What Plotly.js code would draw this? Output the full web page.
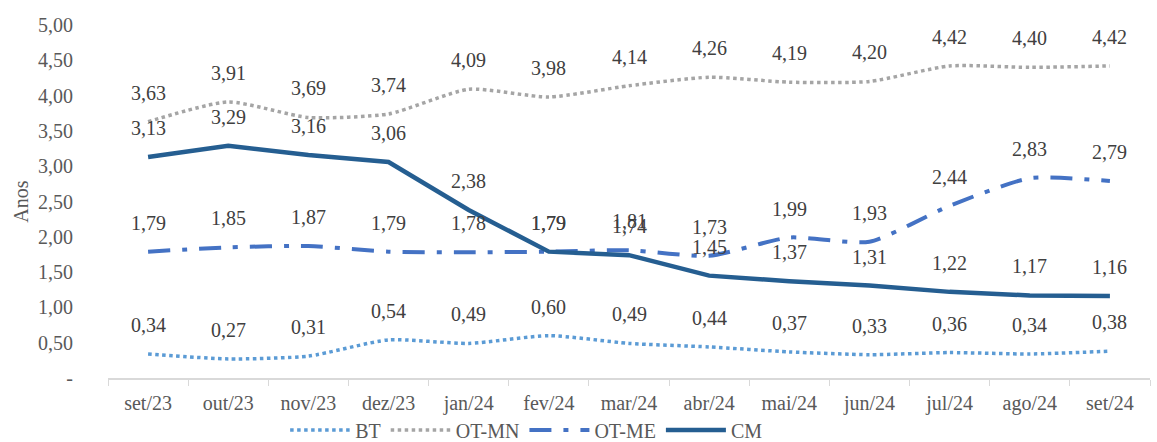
<!DOCTYPE html>
<html>
<head>
<meta charset="utf-8">
<script src="https://cdn.plot.ly/plotly-3.0.1.min.js"></script>
<style>
  html, body { margin: 0; padding: 0; background: #fff; }
  #plot { width: 1157px; height: 442px; }
</style>
</head>
<body>
<div id="plot"></div>
<script>
const months = ['set/23', 'out/23', 'nov/23', 'dez/23', 'jan/24', 'fev/24', 'mar/24',
  'abr/24', 'mai/24', 'jun/24', 'jul/24', 'ago/24', 'set/24'];

const bt = [0.34, 0.27, 0.31, 0.54, 0.49, 0.60, 0.49, 0.44, 0.37, 0.33, 0.36, 0.34, 0.38];
const otMn = [3.63, 3.91, 3.69, 3.74, 4.09, 3.98, 4.14, 4.26, 4.19, 4.20, 4.42, 4.40, 4.42];
const otMe = [1.79, 1.85, 1.87, 1.79, 1.78, 1.79, 1.81, 1.73, 1.99, 1.93, 2.44, 2.83, 2.79];
const cm = [3.13, 3.29, 3.16, 3.06, 2.38, 1.79, 1.74, 1.45, 1.37, 1.31, 1.22, 1.17, 1.16];

const yTicks = [0, 0.5, 1, 1.5, 2, 2.5, 3, 3.5, 4, 4.5, 5];

const fmt = v => v.toFixed(2).replace('.', ',');
const FONT = 'Liberation Serif';

const series = [
  { name: 'BT', y: bt, color: '#5B9BD5', dash: 'dot', width: 3.5, shape: 'spline' },
  { name: 'OT-MN', y: otMn, color: '#A5A5A5', dash: 'dot', width: 3.5, shape: 'spline' },
  { name: 'OT-ME', y: otMe, color: '#4472C4', dash: '22px,12px,5px,12px', width: 4, shape: 'spline' },
  { name: 'CM', y: cm, color: '#255E91', dash: 'solid', width: 4.5, shape: 'linear' },
];

const data = series.map(s => ({
  type: 'scatter',
  mode: 'lines',
  name: s.name,
  x: months,
  y: s.y,
  line: { color: s.color, dash: s.dash, width: s.width, shape: s.shape, smoothing: 0.6 },
  hoverinfo: 'skip',
}));

// data labels sit above each point, like the original chart
const annotations = [];
series.forEach(s => {
  s.y.forEach((v, i) => {
    annotations.push({
      x: months[i], y: v, xref: 'x', yref: 'y',
      text: fmt(v), showarrow: false, yshift: 29,
      font: { family: FONT, size: 20, color: '#404040' },
    });
  });
});

const layout = {
  width: 1157,
  height: 442,
  font: { family: FONT, size: 20, color: '#595959' },
  margin: { l: 108, r: 7, t: 25, b: 64, autoexpand: false },
  paper_bgcolor: '#fff',
  plot_bgcolor: '#fff',
  showlegend: true,
  legend: {
    orientation: 'h', x: 0.17, xanchor: 'left', y: -0.147, yanchor: 'middle',
    bgcolor: 'rgba(0,0,0,0)',
    font: { family: FONT, size: 20, color: '#595959' },
    itemwidth: 60, traceorder: 'normal',
  },
  xaxis: {
    type: 'category',
    range: [-0.5, 12.5],
    showgrid: false,
    showline: true, linecolor: '#D9D9D9', linewidth: 1.5,
    ticks: 'outside', tickson: 'boundaries', ticklen: 6, tickcolor: '#D9D9D9',
    ticklabelstandoff: 6,
    tickfont: { family: FONT, size: 20, color: '#595959' },
    fixedrange: true,
  },
  yaxis: {
    range: [0, 5],
    tickvals: yTicks,
    ticktext: yTicks.map(v => v === 0 ? '-' : fmt(v)),
    showgrid: false, zeroline: false, showline: false,
    ticklabelstandoff: 34,
    tickfont: { family: FONT, size: 20, color: '#595959' },
    title: { text: 'Anos', font: { family: FONT, size: 20, color: '#595959' }, standoff: 4 },
    fixedrange: true,
  },
  annotations: annotations,
};

Plotly.newPlot('plot', data, layout, { displayModeBar: false, staticPlot: true });
</script>
</body>
</html>
